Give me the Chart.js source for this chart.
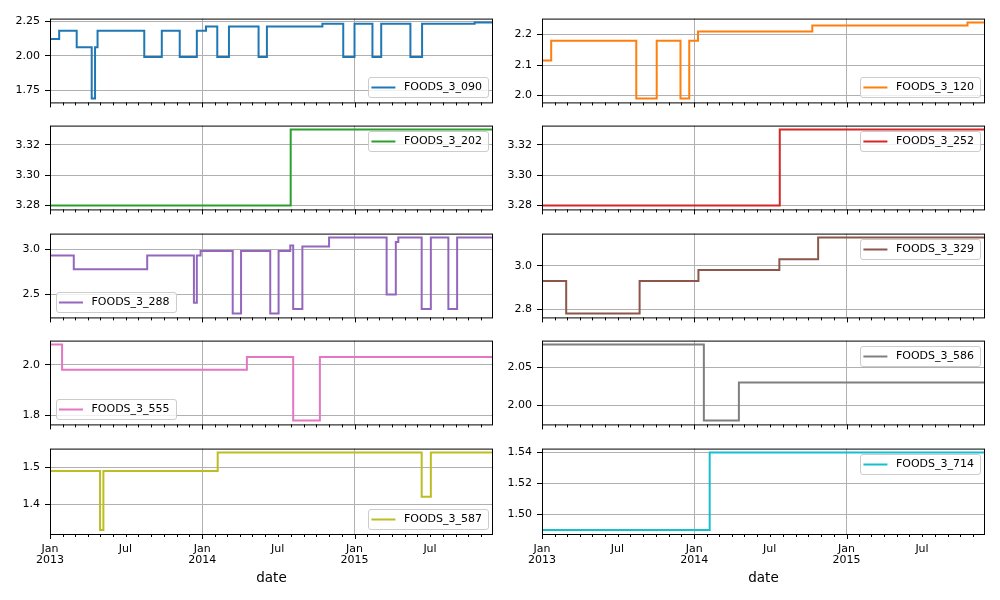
<!DOCTYPE html>
<html>
<head>
<meta charset="utf-8">
<script src="https://cdn.jsdelivr.net/npm/chart.js@4.4.0/dist/chart.umd.min.js"></script>
<style>
  html, body { margin: 0; padding: 0; background: #fff; }
  #fig { position: relative; width: 1000px; height: 600px; overflow: hidden; background: #fff; }
  #fig canvas { position: absolute; }
</style>
</head>
<body>
<div id="fig"></div>
<script>
// Sell price per item, stored as the dates where the price changed
const startDate = '2013-01-01';
const endDate = '2015-11-29';

const items = ['FOODS_3_090', 'FOODS_3_120', 'FOODS_3_202', 'FOODS_3_252', 'FOODS_3_288',
               'FOODS_3_329', 'FOODS_3_555', 'FOODS_3_586', 'FOODS_3_587', 'FOODS_3_714'];

const foods090Dates = ['2013-01-01', '2013-01-23', '2013-03-06', '2013-04-11', '2013-04-19', '2013-04-25',
                       '2013-08-15', '2013-09-26', '2013-11-08', '2013-12-19', '2014-01-10', '2014-02-06',
                       '2014-03-06', '2014-05-16', '2014-06-05', '2014-10-16', '2014-12-05', '2015-01-01',
                       '2015-02-13', '2015-03-06', '2015-05-15', '2015-06-12', '2015-10-16'];
const foods090Prices = [2.12, 2.18, 2.06, 1.69, 2.06, 2.18, 1.99, 2.18, 1.99, 2.18, 2.21, 1.99,
                        2.21, 1.99, 2.21, 2.23, 1.99, 2.23, 1.99, 2.23, 1.99, 2.23, 2.24];

const foods120Dates = ['2013-01-01', '2013-01-23', '2013-08-15', '2013-10-03', '2013-11-29', '2013-12-20',
                       '2014-01-10', '2014-10-11', '2015-10-18'];
const foods120Prices = [2.115, 2.18, 1.99, 2.18, 1.99, 2.18, 2.21, 2.23, 2.24];

const foods202Dates = ['2013-01-01', '2014-08-01'];
const foods202Prices = [3.28, 3.33];

const foods252Dates = ['2013-01-01', '2014-07-25'];
const foods252Prices = [3.28, 3.33];

const foods288Dates = ['2013-01-01', '2013-02-27', '2013-08-22', '2013-12-12', '2013-12-19', '2013-12-28',
                       '2014-03-15', '2014-04-04', '2014-06-13', '2014-07-03', '2014-07-31', '2014-08-07',
                       '2014-08-29', '2014-11-01', '2015-03-19', '2015-04-10', '2015-04-16', '2015-06-11',
                       '2015-07-03', '2015-08-14', '2015-09-04'];
const foods288Prices = [2.93, 2.78, 2.93, 2.41, 2.93, 2.98, 2.29, 2.98, 2.29, 2.98, 3.04, 2.34,
                        3.03, 3.13, 2.50, 3.08, 3.13, 2.34, 3.13, 2.34, 3.13];

const foods329Dates = ['2013-01-01', '2013-02-28', '2013-08-23', '2014-01-11', '2014-07-24', '2014-10-25'];
const foods329Prices = [2.93, 2.78, 2.93, 2.98, 3.03, 3.13];

const foods555Dates = ['2013-01-01', '2013-01-30', '2014-04-18', '2014-08-07', '2014-10-10'];
const foods555Prices = [2.08, 1.98, 2.03, 1.78, 2.03];

const foods586Dates = ['2013-01-01', '2014-01-24', '2014-04-18'];
const foods586Prices = [2.08, 1.98, 2.03];

const foods587Dates = ['2013-01-01', '2013-05-01', '2013-05-09', '2014-02-07', '2015-06-11', '2015-07-03'];
const foods587Prices = [1.49, 1.33, 1.49, 1.54, 1.42, 1.54];

const foods714Dates = ['2013-01-01', '2014-02-07'];
const foods714Prices = [1.49, 1.54];

// y tick labels for each panel
const yTicks090 = ['1.75', '2.00', '2.25'];
const yTicks120 = ['2.0', '2.1', '2.2'];
const yTicks202 = ['3.28', '3.30', '3.32'];
const yTicks252 = ['3.28', '3.30', '3.32'];
const yTicks288 = ['2.5', '3.0'];
const yTicks329 = ['2.8', '3.0'];
const yTicks555 = ['1.8', '2.0'];
const yTicks586 = ['2.00', '2.05'];
const yTicks587 = ['1.4', '1.5'];
const yTicks714 = ['1.50', '1.52', '1.54'];

// labelled x ticks (the rest of the months get unlabelled minor ticks)
const xTickDates = ['2013-01-01', '2013-07-01', '2014-01-01', '2014-07-01', '2015-01-01', '2015-07-01'];
const xTickLabels = [['Jan', '2013'], ['Jul'], ['Jan', '2014'], ['Jul'], ['Jan', '2015'], ['Jul']];

const colors = ['#1f77b4', '#ff7f0e', '#2ca02c', '#d62728', '#9467bd',
                '#8c564b', '#e377c2', '#7f7f7f', '#bcbd22', '#17becf'];
const legendLoc = ['lr', 'lr', 'ur', 'ur', 'll', 'ur', 'll', 'ur', 'lr', 'ur'];

const allDates = [foods090Dates, foods120Dates, foods202Dates, foods252Dates, foods288Dates,
                  foods329Dates, foods555Dates, foods586Dates, foods587Dates, foods714Dates];
const allPrices = [foods090Prices, foods120Prices, foods202Prices, foods252Prices, foods288Prices,
                   foods329Prices, foods555Prices, foods586Prices, foods587Prices, foods714Prices];
const allYTicks = [yTicks090, yTicks120, yTicks202, yTicks252, yTicks288,
                   yTicks329, yTicks555, yTicks586, yTicks587, yTicks714];

// layout of the 5x2 grid
const rowTops = [17, 124, 232, 339, 447];
const plotH = 87;
const colLefts = [50, 542];
const colRights = [493, 985];
const FONT = 'DejaVu Sans';

Chart.defaults.color = '#000';
Chart.defaults.font.family = FONT;

const t0 = Date.parse(startDate + 'T00:00:00Z');
const dayOf = s => (Date.parse(s + 'T00:00:00Z') - t0) / 86400000;
const xEnd = dayOf(endDate);

// a tick on the first of every month
const monthTicks = [];
for (let m = 0; ; m++) {
    const d = (Date.UTC(2013, m, 1) - t0) / 86400000;
    if (d > xEnd) break;
    monthTicks.push({ value: d, jan: m % 12 === 0 });
}
const labelDays = xTickDates.map(dayOf);

// spines, x tick marks and the legend box drawn inside the axes
const framePlugin = {
    id: 'frame',
    afterDraw(chart, args, opts) {
        const { ctx, chartArea: a, scales: { x } } = chart;
        ctx.save();
        ctx.strokeStyle = '#000';
        ctx.lineWidth = 1;
        ctx.beginPath();
        monthTicks.forEach(t => {
            const px = Math.round(x.getPixelForValue(t.value)) + 0.5;
            ctx.moveTo(px, a.bottom);
            ctx.lineTo(px, a.bottom + (t.jan ? 5 : 3));
        });
        ctx.stroke();
        ctx.strokeRect(a.left + 0.5, a.top + 0.5, a.right - a.left - 1, a.bottom - a.top);

        // legend
        ctx.font = '11px "' + FONT + '"';
        const tw = ctx.measureText(opts.label).width;
        const w = 3.5 + 24 + 8.5 + tw + 5.5;
        const h = 19.5;
        const bx = opts.loc === 'll' ? a.left + 5.5 : a.right - 5.5 - w;
        const by = opts.loc === 'ur' ? a.top + 5.5 : a.bottom - 5.5 - h;
        ctx.beginPath();
        ctx.roundRect(Math.round(bx) + 0.5, Math.round(by) + 0.5, Math.round(w), Math.round(h), 2.5);
        ctx.fillStyle = 'rgba(255,255,255,0.8)';
        ctx.fill();
        ctx.strokeStyle = '#cccccc';
        ctx.stroke();
        const cy = Math.round(by + h / 2) + 0.5;
        ctx.beginPath();
        ctx.moveTo(bx + 3.5, cy);
        ctx.lineTo(bx + 27.5, cy);
        ctx.strokeStyle = opts.color;
        ctx.lineWidth = 2;
        ctx.stroke();
        ctx.fillStyle = '#000';
        ctx.textBaseline = 'middle';
        ctx.textAlign = 'left';
        ctx.fillText(opts.label, bx + 36, cy);
        ctx.restore();
    }
};

const fig = document.getElementById('fig');

function makePanel(i) {
    const row = Math.floor(i / 2);
    const col = i % 2;
    const last = row === 4;
    const top = rowTops[row] - 10;
    const height = last ? 600 - top : 107;
    const xH = height - 10 - plotH;

    const canvas = document.createElement('canvas');
    canvas.width = 500;
    canvas.height = height;
    canvas.style.left = (col * 500) + 'px';
    canvas.style.top = top + 'px';
    fig.appendChild(canvas);

    const prices = allPrices[i];
    const points = allDates[i].map((d, k) => ({ x: dayOf(d), y: prices[k] }));
    points.push({ x: xEnd, y: prices[prices.length - 1] });

    // matplotlib style 5% margin around the data
    const lo = Math.min(...prices), hi = Math.max(...prices);
    const pad = (hi - lo) * 0.05;
    const tickLabels = allYTicks[i];

    new Chart(canvas, {
        type: 'line',
        data: {
            datasets: [{
                label: items[i],
                data: points,
                borderColor: colors[i],
                borderWidth: 2,
                pointRadius: 0,
                stepped: 'before',
                fill: false
            }]
        },
        options: {
            responsive: false,
            animation: false,
            layout: { padding: { top: 10, right: 500 - (colRights[col] - col * 500), left: 0, bottom: 0 } },
            scales: {
                x: {
                    type: 'linear',
                    min: 0,
                    max: xEnd,
                    afterBuildTicks: s => { s.ticks = monthTicks.map(t => ({ value: t.value })); },
                    afterFit: s => { s.height = xH; },
                    border: { display: false },
                    grid: {
                        drawTicks: false,
                        lineWidth: 1,
                        color: ctx => (ctx.tick && monthTicks.find(t => t.value === ctx.tick.value && t.jan)) ? '#b0b0b0' : 'rgba(0,0,0,0)'
                    },
                    ticks: {
                        autoSkip: false,
                        maxRotation: 0,
                        padding: 10,
                        font: { size: 11, lineHeight: 1.0 },
                        callback: value => {
                            if (!last) return '';
                            const k = labelDays.indexOf(value);
                            return k >= 0 ? xTickLabels[k] : '';
                        }
                    },
                    title: {
                        display: last,
                        text: 'date',
                        font: { size: 13.5, lineHeight: 1.2 },
                        padding: { top: 0, bottom: 13 }
                    }
                },
                y: {
                    min: lo - pad,
                    max: hi + pad,
                    afterBuildTicks: s => { s.ticks = tickLabels.map(t => ({ value: parseFloat(t) })); },
                    afterFit: s => { s.width = colLefts[col] - col * 500; },
                    border: { display: false },
                    grid: { color: '#b0b0b0', lineWidth: 1, tickColor: '#000', tickLength: 5 },
                    ticks: {
                        padding: 5,
                        font: { size: 11 },
                        callback: (value, index) => tickLabels[index]
                    }
                }
            },
            plugins: {
                legend: { display: false },
                tooltip: { enabled: false },
                frame: { label: items[i], color: colors[i], loc: legendLoc[i] }
            }
        },
        plugins: [framePlugin]
    });
}

for (let i = 0; i < items.length; i++) makePanel(i);
</script>
</body>
</html>
